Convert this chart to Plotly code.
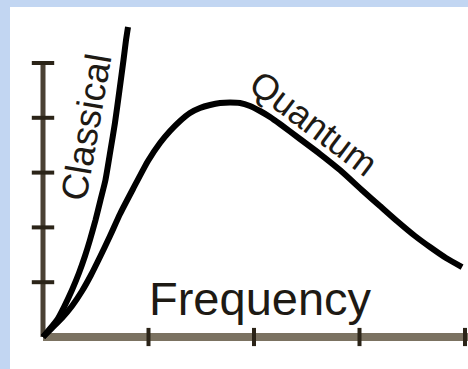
import plotly.graph_objects as go

# Spectral curves (frequency in arbitrary units, intensity in arbitrary units)
quantum_freq = [0.0, 0.085, 0.180, 0.275, 0.370, 0.455, 0.540, 0.635, 0.730, 0.853,
                0.995, 1.109, 1.204, 1.299, 1.393, 1.488, 1.583, 1.678, 1.773, 1.867,
                1.962, 2.057, 2.152, 2.246, 2.436, 2.626, 2.815, 3.033, 3.194, 3.355,
                3.526, 3.668, 3.820, 3.972]
quantum_int = [0.0, 0.164, 0.347, 0.566, 0.839, 1.131, 1.460, 1.843, 2.245, 2.701,
               3.212, 3.540, 3.759, 3.942, 4.088, 4.179, 4.234, 4.270, 4.279, 4.270,
               4.215, 4.124, 4.015, 3.887, 3.613, 3.339, 3.047, 2.664, 2.391, 2.117,
               1.843, 1.642, 1.442, 1.277]

classical_freq = [0.0, 0.133, 0.199, 0.275, 0.341, 0.398, 0.445, 0.498, 0.545, 0.592,
                  0.640, 0.682, 0.725, 0.763, 0.787, 0.806]
classical_int = [0.0, 0.310, 0.547, 0.858, 1.168, 1.478, 1.770, 2.135, 2.500, 2.865,
                 3.412, 3.905, 4.507, 5.055, 5.420, 5.657]

x_ticks = [1, 2, 3, 4]
y_ticks = [1, 2, 3, 4, 5]

x_label = "Frequency"
curve_labels = ["Classical", "Quantum"]

X_RANGE = [-0.3128, 4.0284]
Y_RANGE = [-0.5839, 6.0219]

AXIS_X_COLOR = "#7b7261"
AXIS_Y_COLOR = "#4a4134"
TICK_COLOR = "#2b2418"
TEXT_COLOR = "#1e1a14"
FONT = "Liberation Sans, Arial, sans-serif"

fig = go.Figure()

# Horizontal axis bar
fig.add_trace(go.Scatter(x=[0, X_RANGE[1]], y=[0, 0], mode="lines",
                         line=dict(color=AXIS_X_COLOR, width=8),
                         hoverinfo="skip", showlegend=False))
# Vertical axis bar
fig.add_trace(go.Scatter(x=[0, 0], y=[0, y_ticks[-1]], mode="lines",
                         line=dict(color=AXIS_Y_COLOR, width=5),
                         hoverinfo="skip", showlegend=False))

# Tick marks crossing the axes
fig.add_trace(go.Scatter(x=x_ticks, y=[0] * len(x_ticks), mode="markers",
                         marker=dict(symbol="line-ns", size=13,
                                     line=dict(color=TICK_COLOR, width=4)),
                         cliponaxis=False, hoverinfo="skip", showlegend=False))
fig.add_trace(go.Scatter(x=[0] * len(y_ticks), y=y_ticks, mode="markers",
                         marker=dict(symbol="line-ew", size=16,
                                     line=dict(color=TICK_COLOR, width=4)),
                         cliponaxis=False, hoverinfo="skip", showlegend=False))

# Curves
fig.add_trace(go.Scatter(x=classical_freq, y=classical_int, mode="lines",
                         line=dict(color="#000000", width=6, shape="spline", smoothing=0.6),
                         name=curve_labels[0], showlegend=False))
fig.add_trace(go.Scatter(x=quantum_freq, y=quantum_int, mode="lines",
                         line=dict(color="#000000", width=6, shape="spline", smoothing=0.6),
                         name=curve_labels[1], showlegend=False))

# Labels
fig.add_annotation(x=2.057, y=0.70, xref="x", yref="y", text=x_label,
                   showarrow=False, xanchor="center", yanchor="middle",
                   font=dict(family=FONT, size=47, color=TEXT_COLOR))
fig.add_annotation(x=0.408, y=3.83, xref="x", yref="y", text=curve_labels[0],
                   showarrow=False, textangle=-80, xanchor="center", yanchor="middle",
                   font=dict(family=FONT, size=37, color=TEXT_COLOR))
fig.add_annotation(x=2.569, y=3.905, xref="x", yref="y", text=curve_labels[1],
                   showarrow=False, textangle=37, xanchor="center", yanchor="middle",
                   font=dict(family=FONT, size=36, color=TEXT_COLOR))

fig.update_xaxes(visible=False, range=X_RANGE)
fig.update_yaxes(visible=False, range=Y_RANGE)
fig.update_layout(
    width=468, height=369,
    margin=dict(l=10, r=0, t=7, b=0),
    paper_bgcolor="#c2d6f2",
    plot_bgcolor="#ffffff",
    showlegend=False,
)

fig.write_html("out.html")
